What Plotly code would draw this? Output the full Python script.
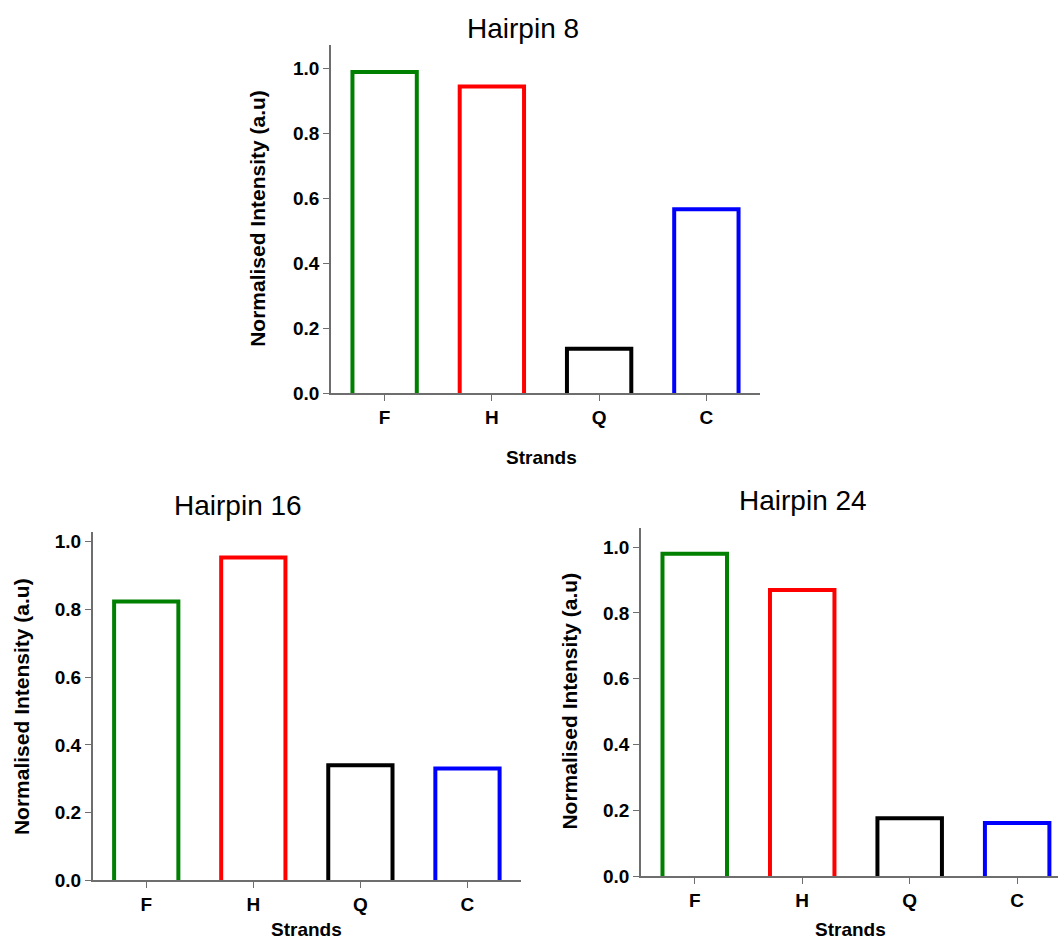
import plotly.graph_objects as go

# Strand categories and normalised intensities for each hairpin
strands = ["F", "H", "Q", "C"]
strand_colors = ["#008000", "#ff0000", "#000000", "#0000ff"]
hairpin8 = [0.99, 0.945, 0.138, 0.567]
hairpin16 = [0.823, 0.953, 0.340, 0.330]
hairpin24 = [0.980, 0.870, 0.177, 0.162]
y_ticks = [0.0, 0.2, 0.4, 0.6, 0.8, 1.0]

BAR_WIDTH = 0.6
FONT = "Liberation Sans, Arial, Helvetica, sans-serif"
AXIS_GREY = "#6e6e6e"

W, H = 1058, 952
VSCALE = 0.988  # vertical pixel scale of the rendered page


def fx(x):
    return x / W


def fy(y):
    return (H - y / VSCALE) / H


panels = [
    # name, values, axis suffix, x span (px), y span top/bottom (px), x range, y range
    ("Hairpin 8", hairpin8, "", (331, 760), (44, 392.7), [-0.5, 3.5], [0, 1.073]),
    ("Hairpin 16", hairpin16, "2", (92.7, 521), (531.7, 880), [-0.5, 3.5], [0, 1.027]),
    ("Hairpin 24", hairpin24, "3", (641, 1058), (527.3, 876), [-0.5, 3.38], [0, 1.058]),
]

fig = go.Figure()

for name, values, sfx, (x0, x1), (ytop, ybot), xr, yr in panels:
    xa, ya = "x" + sfx, "y" + sfx
    # open-bottomed outline bars so the axis line shows along the base
    for i, (lab, v, col) in enumerate(zip(strands, values, strand_colors)):
        left, right = i - BAR_WIDTH / 2, i + BAR_WIDTH / 2
        fig.add_trace(go.Scatter(
            x=[left, left, right, right], y=[0, v, v, 0],
            mode="lines", line=dict(color=col, width=4),
            xaxis=xa, yaxis=ya, showlegend=False,
            name=f"{name} {lab}", hoverinfo="skip", cliponaxis=False,
        ))
    common = dict(showline=True, linecolor=AXIS_GREY, linewidth=1.5,
                  ticks="outside", ticklen=6, tickwidth=1.3, tickcolor=AXIS_GREY,
                  showgrid=False, zeroline=False,
                  tickfont=dict(family=FONT, size=19, color="black", weight="bold"))
    fig.update_layout(**{
        ("xaxis" + sfx): dict(domain=[fx(x0), min(fx(x1), 1.0)], range=xr, anchor=ya,
                              tickvals=list(range(len(strands))), ticktext=strands,
                              **common),
        ("yaxis" + sfx): dict(domain=[fy(ybot), fy(ytop)], range=yr, anchor=xa,
                              tickvals=y_ticks, tickformat=".1f", **common),
    })

annotations = []
# subplot titles
for text, (x, y) in [("Hairpin 8", (522.5, 28)), ("Hairpin 16", (238, 505)),
                     ("Hairpin 24", (803.3, 500))]:
    annotations.append(dict(text=text, x=fx(x), y=fy(y), xref="paper", yref="paper",
                            xanchor="center", yanchor="middle", showarrow=False,
                            font=dict(family=FONT, size=28, color="black")))
# y axis titles
for x, y in [(257.5, 217.5), (21.7, 705.8), (570, 701)]:
    annotations.append(dict(text="Normalised Intensity (a.u)", x=fx(x), y=fy(y),
                            xref="paper", yref="paper", textangle=-90,
                            xanchor="center", yanchor="middle", showarrow=False,
                            font=dict(family=FONT, size=21, color="black", weight="bold")))
# x axis titles (the lower two sit on the bottom edge of the figure)
strand_font = dict(family=FONT, size=19, color="black", weight="bold")
annotations.append(dict(text="Strands", x=fx(541.5), y=fy(457), xref="paper", yref="paper",
                        xanchor="center", yanchor="middle", showarrow=False,
                        font=strand_font))
for x in (306, 850.8):
    annotations.append(dict(text="Strands", x=fx(x), y=0, xref="paper", yref="paper",
                            xanchor="center", yanchor="bottom", showarrow=False,
                            borderpad=0, font=strand_font))

fig.update_layout(
    width=W, height=H, autosize=False,
    margin=dict(l=0, r=0, t=0, b=0),
    paper_bgcolor="white", plot_bgcolor="white",
    annotations=annotations,
    showlegend=False,
)

fig.write_html("out.html")
